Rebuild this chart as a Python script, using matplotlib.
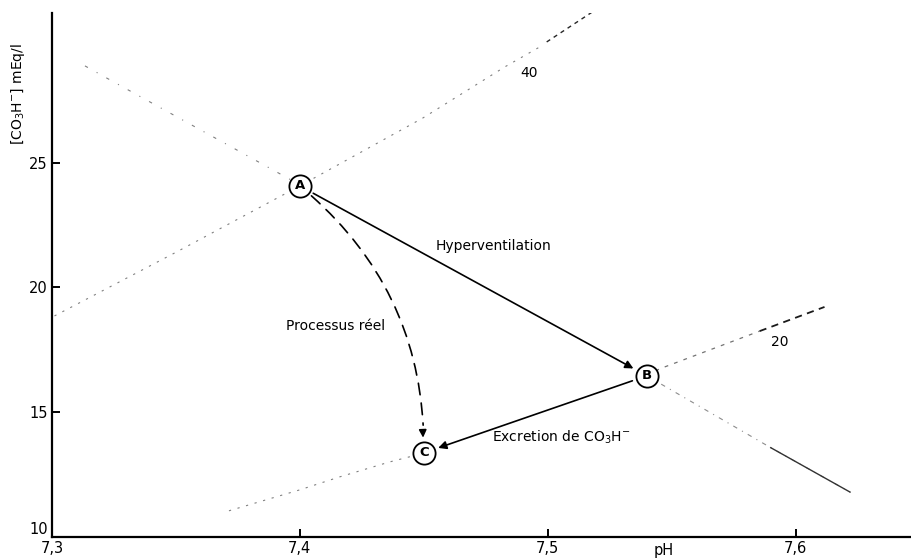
import matplotlib.pyplot as plt
import numpy as np

# axes ticks
ph_ticks = [7.3, 7.4, 7.5, 7.6]
ph_labels = ['7,3', '7,4', '7,5', '7,6']
hco3_ticks = [10, 15, 20, 25]

# states A, B, C  (pH, [CO3H-])
pt_names = ['A', 'B', 'C']
pt_ph = [7.40, 7.54, 7.45]
pt_hco3 = [24.07, 16.46, 13.37]

# PCO2 = 40 isobar
iso40_ph = [7.301, 7.350, 7.400, 7.4496, 7.4827, 7.4968]
iso40_hco3 = [18.86, 21.41, 24.07, 26.79, 28.84, 29.64]
iso40_end_ph = [7.4996, 7.518]
iso40_end_hco3 = [29.84, 31.04]

# PCO2 = 20 isobar
iso20_low_ph = [7.3714, 7.400, 7.4161, 7.4363, 7.4504]
iso20_low_hco3 = [11.05, 11.89, 12.41, 13.01, 13.37]
iso20_up_ph = [7.540, 7.5452, 7.5855]
iso20_up_hco3 = [16.46, 16.74, 18.25]
iso20_end_ph = [7.5855, 7.6117]
iso20_end_hco3 = [18.25, 19.22]

# buffer line
buf_up_ph = [7.3133, 7.3234, 7.3746, 7.4008]
buf_up_hco3 = [28.88, 28.32, 25.51, 24.07]
buf_low_ph = [7.540, 7.590, 7.622]
buf_low_hco3 = [16.46, 13.58, 11.80]
buf_end_ph = [7.590, 7.622]
buf_end_hco3 = [13.58, 11.80]

fig = plt.figure(figsize=(9.12, 5.59), dpi=100)
ax = fig.add_axes([52/912, 22/559, 860/912, 524/559])
ax.set_xlim(7.3, 7.647)
ax.set_ylim(10, 31)

ax.spines['right'].set_color('none')
ax.spines['top'].set_color('none')
ax.spines['left'].set_linewidth(1.6)
ax.spines['bottom'].set_linewidth(1.6)
ax.set_xticks(ph_ticks)
ax.set_xticklabels(ph_labels)
ax.set_yticks(hco3_ticks)
ax.tick_params(direction='in', length=6, width=1.4, labelsize=10.5, pad=3)
# lift the "10" so it clears "7,3" in the corner
ax.get_yticklabels()[0].set_va('bottom')

# isobars and buffer line
ax.plot(iso40_ph, iso40_hco3, color='0.5', lw=0.8, ls=(0, (2, 6)))
ax.plot(iso40_end_ph, iso40_end_hco3, color='0.15', lw=1.0, ls=(0, (3, 3)))
ax.plot(iso20_low_ph, iso20_low_hco3, color='0.5', lw=0.8, ls=(0, (2, 6)))
ax.plot(iso20_up_ph, iso20_up_hco3, color='0.45', lw=0.9, ls=(0, (3, 5)))
ax.plot(iso20_end_ph, iso20_end_hco3, color='0.1', lw=1.3, ls=(0, (4, 3)))
ax.plot(buf_up_ph, buf_up_hco3, color='0.5', lw=0.8, ls=(0, (3, 9, 1, 9)))
ax.plot(buf_low_ph, buf_low_hco3, color='0.55', lw=0.8, ls=(0, (4, 5, 1, 5)))
ax.plot(buf_end_ph, buf_end_hco3, color='0.2', lw=1.0)

ax.text(7.4923, 28.6, '40', fontsize=10, ha='center', va='center')
ax.text(7.5935, 17.82, '20', fontsize=10, ha='center', va='center')

# arrows between states
arr = dict(arrowstyle='-|>', color='k', lw=1.2, shrinkA=11, shrinkB=11, mutation_scale=12)
ax.annotate('', xy=(pt_ph[1], pt_hco3[1]), xytext=(pt_ph[0], pt_hco3[0]), arrowprops=arr)
ax.annotate('', xy=(pt_ph[2], pt_hco3[2]), xytext=(pt_ph[1], pt_hco3[1]), arrowprops=arr)
ax.annotate('', xy=(pt_ph[2], pt_hco3[2]), xytext=(pt_ph[0], pt_hco3[0]),
            arrowprops=dict(arrowstyle='-', color='k', lw=1.2, ls=(0, (7, 5)),
                            shrinkA=11, shrinkB=20, connectionstyle='arc3,rad=-0.24'))
ax.annotate('', xy=(pt_ph[2], pt_hco3[2]), xytext=(pt_ph[2] - 0.0004, pt_hco3[2] + 0.9),
            arrowprops=dict(arrowstyle='-|>', color='k', lw=1.2, shrinkA=0, shrinkB=11,
                            mutation_scale=11))

ax.plot(pt_ph, pt_hco3, 'o', ms=16, mfc='white', mec='k', mew=1.3, zorder=5)
for n, x, y in zip(pt_names, pt_ph, pt_hco3):
    ax.text(x, y, n, fontsize=9.5, fontweight='bold', ha='center', va='center', zorder=6)

ax.text(7.478, 21.67, 'Hyperventilation', fontsize=10, ha='center', va='center')
ax.text(7.4145, 18.46, 'Processus réel', fontsize=10, ha='center', va='center')
ax.text(7.5056, 14.01, 'Excretion de CO$_3$H$^{-}$', fontsize=10, ha='center', va='center')

ax.annotate('pH', xy=(7.547, 0), xycoords=ax.get_xaxis_transform(),
            xytext=(0, -4), textcoords='offset points', fontsize=10.5,
            ha='center', va='top')
fig.text(18/912, 1 - 94/559, r'$\left[\mathrm{CO_3H^{-}}\right]$ mEq/l', fontsize=10,
         rotation=90, ha='center', va='center')

plt.savefig('out.png', dpi=100)
